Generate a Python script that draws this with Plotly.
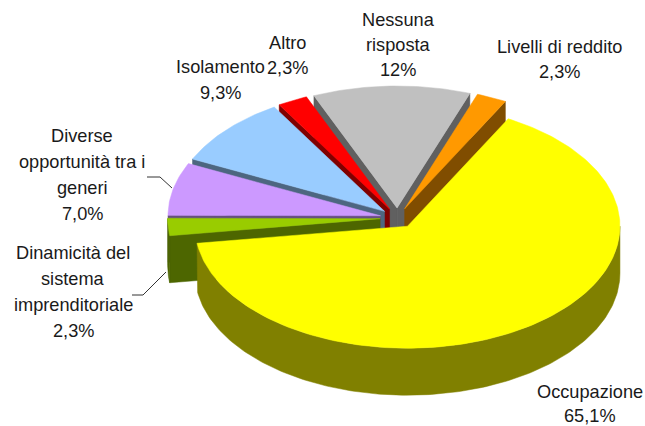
import math
import plotly.graph_objects as go

categories = ["Occupazione", "Dinamicità del sistema imprenditoriale",
              "Diverse opportunità tra i generi", "Isolamento", "Altro",
              "Nessuna risposta", "Livelli di reddito"]
values = [65.1, 2.3, 7.0, 9.3, 2.3, 12.0, 2.3]
value_labels = ["65,1%", "2,3%", "7,0%", "9,3%", "2,3%", "12%", "2,3%"]
top_colors = ["#FFFF00", "#99CC00", "#CC99FF", "#99CCFF", "#FF0000", "#C0C0C0", "#FF9900"]
side_colors = ["#808000", "#4D6600", "#665080", "#4D6680", "#800000", "#606060", "#804D00"]

# Pie geometry (pixels of the hidden 645x426 axes)
CX, CY, RX, RY, DEPTH = 397.5, 218.0, 212.5, 122.0, 47.0
EXPLODE = 0.082
START = 28.3
FONT = "Liberation Sans"
FONT_SIZE = 18.2
TEXT = "#1a1a1a"

# Label layout: slice index -> centre x, and y of each line
label_layout = {
    0: (589.5, [[categories[0]], [value_labels[0]]], [392, 416]),
    1: (73, [["Dinamicità del"], ["sistema"], ["imprenditoriale"], [value_labels[1]]], [253, 279, 305, 331]),
    2: (82, [["Diverse"], ["opportunità tra i"], ["generi"], [value_labels[2]]], [136, 162, 188, 214]),
    3: (220, [[categories[3]], [value_labels[3]]], [67, 93]),
    4: (287, [[categories[4]], [value_labels[4]]], [43, 68]),
    5: (398, [["Nessuna"], ["risposta"], [value_labels[5]]], [20, 45, 70]),
    6: (559, [[categories[6]], [value_labels[6]]], [47, 72]),
}
leaders = [
    ([147, 160, 172], [177, 177, 188]),
    ([132, 143, 166], [295, 295, 272]),
]


def pt(ax, ay, deg, dz=0.0):
    r = math.radians(deg)
    return ax + RX * math.sin(r), ay - RY * math.cos(r) + dz


def arc(ax, ay, a, b, dz=0.0, step=1.0):
    n = max(2, int(abs(b - a) / step) + 1)
    return [pt(ax, ay, a + (b - a) * i / (n - 1), dz) for i in range(n)]


def poly(fig, pts, color):
    xs = [p[0] for p in pts] + [pts[0][0]]
    ys = [p[1] for p in pts] + [pts[0][1]]
    fig.add_trace(go.Scatter(x=xs, y=ys, mode="lines", fill="toself", fillcolor=color,
                             line=dict(color=color, width=0.5), hoverinfo="skip",
                             showlegend=False))


# Slice angles
total = sum(values)
spans = []
a = START
for v in values:
    b = a + v / total * 360.0
    spans.append((a, b))
    a = b

fig = go.Figure()
draw_order = [5, 6, 4, 3, 2, 1, 0]
for i in draw_order:
    a, b = spans[i]
    mid = math.radians((a + b) / 2)
    ax = CX + EXPLODE * RX * math.sin(mid)
    ay = CY - EXPLODE * RY * math.cos(mid)
    # radial side faces that look towards the viewer
    if math.sin(math.radians(a)) < 0:
        p = pt(ax, ay, a)
        poly(fig, [(ax, ay), p, (p[0], p[1] + DEPTH), (ax, ay + DEPTH)], side_colors[i])
    if math.sin(math.radians(b)) > 0:
        p = pt(ax, ay, b)
        poly(fig, [(ax, ay), p, (p[0], p[1] + DEPTH), (ax, ay + DEPTH)], side_colors[i])
    # outer rim
    for lo, hi in ((90, 270), (450, 630)):
        s, e = max(a, lo), min(b, hi)
        if e > s:
            poly(fig, arc(ax, ay, s, e) + arc(ax, ay, e, s, DEPTH), side_colors[i])
    # top
    poly(fig, [(ax, ay)] + arc(ax, ay, a, b), top_colors[i])

for xs, ys in leaders:
    fig.add_trace(go.Scatter(x=xs, y=ys, mode="lines", line=dict(color="#333333", width=1),
                             hoverinfo="skip", showlegend=False))

annotations = []
for i, (x, lines, ys) in label_layout.items():
    for line, y in zip(lines, ys):
        annotations.append(dict(x=x, y=y, xref="x", yref="y", text=line[0], showarrow=False,
                                xanchor="center", yanchor="middle",
                                font=dict(family=FONT, size=FONT_SIZE, color=TEXT)))

fig.update_layout(
    width=645, height=426, margin=dict(l=0, r=0, t=0, b=0),
    paper_bgcolor="white", plot_bgcolor="white", showlegend=False,
    annotations=annotations,
    xaxis=dict(range=[0, 645], visible=False, fixedrange=True),
    yaxis=dict(range=[426, 0], visible=False, fixedrange=True),
)
fig.write_html("out.html", config={"displayModeBar": False},
               post_script="document.body.style.margin='0';document.body.style.overflow='hidden';")
